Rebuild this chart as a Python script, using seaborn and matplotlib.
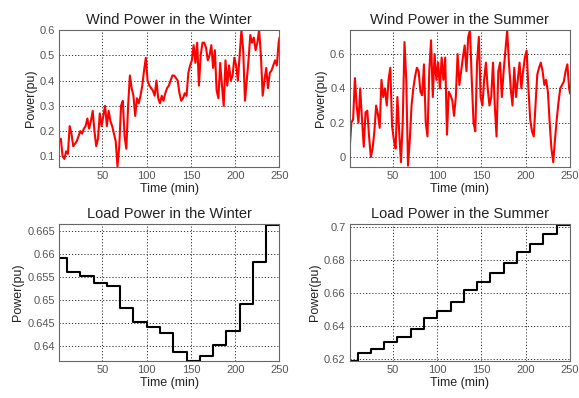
import numpy as np
import pandas as pd
import matplotlib
matplotlib.use("Agg")
import matplotlib.pyplot as plt
import seaborn as sns
import matplotlib.ticker as mticker

sns.set_style("white")
plt.rcParams['font.family'] = ['Liberation Sans', 'DejaVu Sans']

# --------------------------- data ---------------------------
wind_time = list(range(1, 250, 2)) + [250]

wind_winter = [0.16, 0.17, 0.10, 0.09, 0.12, 0.11, 0.22, 0.19, 0.14, 0.15,
               0.16, 0.18, 0.20, 0.19, 0.21, 0.22, 0.25, 0.21, 0.24, 0.28,
               0.20, 0.14, 0.17, 0.27, 0.22, 0.26, 0.30, 0.22, 0.28, 0.24,
               0.22, 0.19, 0.16, 0.06, 0.14, 0.30, 0.32, 0.18, 0.13, 0.30,
               0.42, 0.37, 0.34, 0.26, 0.33, 0.31, 0.34, 0.38, 0.44, 0.49,
               0.40, 0.38, 0.37, 0.36, 0.34, 0.40, 0.33, 0.31, 0.34, 0.32,
               0.35, 0.37, 0.38, 0.40, 0.42, 0.42, 0.41, 0.40, 0.35, 0.32,
               0.33, 0.35, 0.34, 0.43, 0.46, 0.48, 0.54, 0.47, 0.55, 0.38,
               0.50, 0.55, 0.55, 0.53, 0.48, 0.50, 0.54, 0.45, 0.52, 0.36,
               0.33, 0.47, 0.38, 0.30, 0.48, 0.38, 0.46, 0.40, 0.42, 0.49,
               0.46, 0.40, 0.50, 0.60, 0.52, 0.32, 0.40, 0.48, 0.58, 0.55,
               0.57, 0.52, 0.55, 0.60, 0.50, 0.34, 0.40, 0.45, 0.37, 0.43,
               0.44, 0.46, 0.48, 0.46, 0.55, 0.57]

wind_summer = [0.04, 0.20, 0.22, 0.46, 0.30, 0.20, 0.40, 0.22, 0.06, 0.26,
               0.27, 0.12, 0.00, 0.05, 0.15, 0.30, 0.25, 0.17, 0.45, 0.35,
               0.40, 0.30, 0.45, 0.52, 0.18, 0.10, 0.05, 0.35, 0.15, -0.03,
               0.20, 0.67, 0.45, -0.05, 0.10, 0.30, 0.40, 0.47, 0.52, 0.50,
               0.38, 0.36, 0.54, 0.20, 0.12, 0.50, 0.68, 0.35, 0.60, 0.45,
               0.55, 0.40, 0.58, 0.45, 0.58, 0.13, 0.38, 0.36, 0.33, 0.24,
               0.35, 0.60, 0.42, 0.50, 0.58, 0.65, 0.50, 0.70, 0.74, 0.45,
               0.20, 0.15, 0.55, 0.70, 0.35, 0.30, 0.45, 0.55, 0.40, 0.30,
               0.35, 0.55, 0.30, 0.12, 0.50, 0.55, 0.35, 0.50, 0.62, 0.74,
               0.55, 0.40, 0.30, 0.52, 0.35, 0.45, 0.55, 0.40, 0.50, 0.58,
               0.62, 0.40, 0.22, 0.15, 0.12, 0.30, 0.48, 0.52, 0.55, 0.50,
               0.42, 0.45, 0.38, 0.20, 0.05, -0.03, 0.10, 0.22, 0.32, 0.40,
               0.42, 0.44, 0.50, 0.54, 0.40, 0.37]

load_time = [1, 10, 25, 40, 55, 70, 85, 100, 115, 130, 145, 160, 175, 190, 205, 220, 235, 250]

load_winter = [0.6591, 0.6562, 0.6553, 0.6538, 0.6531, 0.6483, 0.6452, 0.6441, 0.6429,
               0.6388, 0.6368, 0.6378, 0.6403, 0.6433, 0.6492, 0.6583, 0.6663, 0.6663]

load_summer = [0.6190, 0.6241, 0.6265, 0.6303, 0.6336, 0.6384, 0.6451, 0.6490, 0.6546,
               0.6621, 0.6668, 0.6721, 0.6785, 0.6846, 0.6897, 0.6958, 0.7014, 0.7014]

# --------------------------- figure ---------------------------
fig, axes = plt.subplots(2, 2, figsize=(5.79, 3.98), dpi=100)
plt.subplots_adjust(left=0.102, right=0.9845, top=0.9246, bottom=0.093,
                    wspace=0.318, hspace=0.416)

panels = [
    (axes[0, 0], wind_time, wind_winter, 'red', "Wind Power in the Winter", (0.058, 0.6), [0.1, 0.2, 0.3, 0.4, 0.5, 0.6], None),
    (axes[0, 1], wind_time, wind_summer, 'red', "Wind Power in the Summer", (-0.058, 0.74), [0, 0.2, 0.4, 0.6], None),
    (axes[1, 0], load_time, load_winter, 'black', "Load Power in the Winter", (0.6368, 0.6665), [0.64, 0.645, 0.65, 0.655, 0.66, 0.665], 'steps-post'),
    (axes[1, 1], load_time, load_summer, 'black', "Load Power in the Summer", (0.619, 0.7018), [0.62, 0.64, 0.66, 0.68, 0.7], 'steps-post'),
]

for ax, t, v, col, title, ylim, yticks, ds in panels:
    df = pd.DataFrame({'t': t, 'v': v})
    if ds:
        sns.lineplot(data=df, x='t', y='v', color=col, linewidth=1.5, ax=ax, drawstyle=ds)
    else:
        sns.lineplot(data=df, x='t', y='v', color=col, linewidth=1.5, ax=ax)
    ax.set_xlim(1, 250)
    ax.set_ylim(*ylim)
    ax.set_xticks([50, 100, 150, 200, 250])
    ax.set_yticks(yticks)
    ax.yaxis.set_major_formatter(mticker.FuncFormatter(lambda x, p: f"{x:g}"))
    ax.grid(True, color='#333333', linestyle=(0, (1.2, 2.0)), linewidth=0.7)
    ax.set_title(title, fontsize=10.5, color='#222222', pad=4)
    ax.set_xlabel("Time (min)", fontsize=9, color='#222222', labelpad=1)
    ax.set_ylabel("Power(pu)", fontsize=9, color='#222222', labelpad=2)
    ax.tick_params(axis='both', labelsize=8, colors='#555555', direction='in', length=3, pad=3)
    for spine in ax.spines.values():
        spine.set_edgecolor('#666666')
        spine.set_linewidth(0.8)

plt.savefig("out.png", dpi=100)
